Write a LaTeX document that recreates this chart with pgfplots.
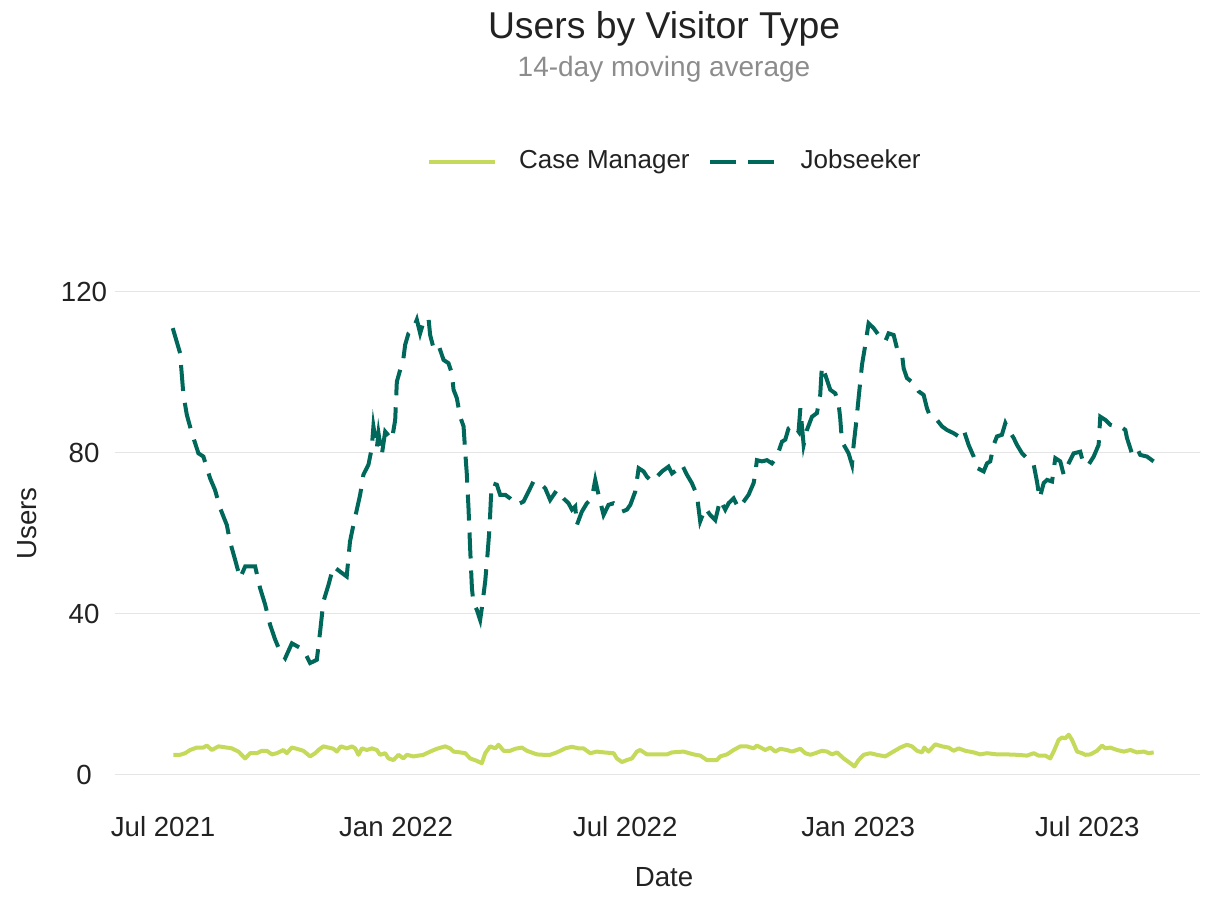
\documentclass[border=0pt]{standalone}
\usepackage{pgfplots}
\pgfplotsset{compat=1.18}
\usepackage{fontspec}
\setmainfont{Liberation Sans}

\definecolor{casemgr}{RGB}{197,218,90}
\definecolor{jobseek}{RGB}{0,104,90}
\definecolor{gridgray}{RGB}{229,229,229}
\definecolor{txtdark}{RGB}{34,34,34}
\definecolor{subgray}{RGB}{140,140,140}

% x = days since 1 Jul 2021
\pgfplotstableread{
day users
7.6 110.9
13.4 104.7
16 94.4
18.7 89.4
22.7 84.8
27.9 79.8
31.8 79.0
37.1 73.6
41 70.7
45 66.2
50.3 62.0
52.9 57.8
56.9 53.3
60.8 48.8
64.8 51.7
72.7 51.7
76.6 46.3
80.6 42.2
84.5 37.2
88.5 33.5
92.4 30.6
96.4 28.9
101.7 32.6
110.8 31.0
116.1 27.7
121.4 28.5
124 35.5
126.6 43.0
130.6 47.1
134.5 51.7
139.8 50.4
145 49.2
147.6 57.9
150.3 62
155.6 69.5
158.2 74.5
162.2 77
164.8 81.1
166.1 86.5
168.8 81.1
170.1 84.8
172.7 79.4
175.4 85.2
180.7 83.2
183.3 88.1
184.6 97.6
187.2 100.5
189.8 103.4
191.2 106.8
193.8 109.6
197.8 110.9
200.4 113
203 109.6
205.7 112.5
209.6 113.4
210.9 109.2
213.6 105.9
217.5 106.7
221.5 103
225.4 102.2
228 99.7
229.4 95.6
232 93.5
234.6 88.9
237.3 86.5
238.6 80.2
239.9 74.5
241.2 66.2
242.5 56.2
243.9 46.3
245.1 42.6
247.8 40.9
250.4 38.4
251.7 41.3
254.4 48
256.2 54.6
257.8 61.2
258.9 68.6
259.7 72.4
263.6 72
266.2 69.5
270.2 69.5
274.1 68.6
279.4 67
284.6 67.8
288.6 70.3
292.5 72.8
297.8 72.4
301.8 71.1
305.7 68.2
311 70.7
316.2 68.6
320.2 67.4
322.9 65.8
325.5 66.6
326.8 62
330.7 65.3
334.7 67.4
338.6 68.6
341.3 73.2
343.9 69.5
347.9 64.5
351.8 67
355.8 67.4
362.4 65.3
366.3 65.8
369 67
372.9 70.3
375.6 76.1
379.5 75.3
382.1 74
386.1 72.8
390 74
394 75.3
399.2 76.5
401.9 74.8
405.8 75.7
409.8 77
413.7 74.5
417.6 72.4
421.6 69.5
424.2 62.9
428.2 66.2
432.1 64.5
436.1 63.2
440 68.2
444 65.8
446.6 67.4
450.6 68.6
454.5 66.2
458.5 67.8
462.4 69.5
466.4 72.4
467.7 74.8
469 78.1
473 77.8
476.9 78.1
480.9 77.3
484.8 79
488.8 82.7
491.4 83.2
494 86
498 86.9
501.9 85.2
503.3 91
505.9 81.9
508.5 85.6
512.5 88.9
516.4 89.8
519 94.3
520.3 101.4
523 99.3
526.9 95.6
530.9 94.7
533.5 92.2
534.8 88.5
536.2 82.7
541.4 79.8
544.1 77
545.4 81.9
547.5 87.7
549.3 93.5
552 101.8
554.6 106.7
557.2 112.1
561.2 110.9
565.1 109.2
570.4 107.6
573 109.6
577 109.2
579.6 105.9
583.5 104.7
584.9 100.9
587.5 98.5
592.8 97.2
596.7 95.2
600.7 94.3
603.3 91
605.9 88.9
611.2 88.1
615.2 86.5
619.1 85.6
624.4 84.8
628.3 84
632.3 85.6
636.2 81.9
640.2 79
643.3 76.1
648.1 75.3
650.7 77.3
653.3 77.8
656 81.9
658.6 84
662.5 84.4
665.2 87.3
667.8 85.6
671.8 83.6
674.4 81.9
678.4 79.8
683.6 78.2
687.6 77
690.2 72.8
692.3 68.6
695.5 72.4
698.1 73.2
702.1 72.8
704.7 78.6
708.6 77.8
711.3 74.5
715.2 77.3
719.2 79.8
724.4 80.2
727.1 77
731 77
735 79
738.9 81.9
740.2 88.9
744.2 88.1
748.1 86.9
752.1 86.5
756 86.5
760 85.6
761.3 83.6
765.2 79.8
769.2 81.1
771.8 79.4
777.1 79
782.3 77.8
}\jobseeker

\pgfplotstableread{
day users
8.1 4.9
13.4 4.9
17.4 5.3
21.3 6.1
26.6 6.7
31.8 6.7
34.5 7.2
38.5 6.1
43.7 7.0
50.3 6.7
54.3 6.5
59.5 5.7
64.8 4.0
68.7 5.3
74 5.3
78 5.9
81.9 5.9
85.9 5.0
89.8 5.3
95 6.1
97.7 5.3
101.6 6.7
105.6 6.4
110.8 5.9
116.1 4.5
120.1 5.3
122.7 6.1
126.6 7.0
130.6 6.7
134.5 6.4
137.2 5.7
140.4 7.0
145.1 6.5
149.1 7.0
151.7 6.5
154.3 4.9
157 6.5
160.9 6.1
164.9 6.5
168.8 6.1
171.4 4.9
175.4 5.3
178 4.0
181.9 3.6
185.9 4.9
189.8 4.0
192.5 4.9
197.7 4.5
205.6 4.9
210.9 5.7
216.2 6.4
222.8 7.0
226.7 6.5
229.4 5.7
234.6 5.5
238.6 5.3
242.5 4.0
247.8 3.4
251.7 2.8
254.4 5.3
258.3 7.0
262.3 6.5
264.9 7.4
268.9 5.9
274.1 5.9
278.1 6.4
283.4 6.7
287.3 5.9
295.2 5.0
300.4 4.9
305.7 4.9
311 5.5
317.6 6.5
322.9 6.9
328.1 6.5
332.1 6.5
337.3 5.3
342.6 5.7
347.9 5.5
355.8 5.3
358.4 4.0
362.4 3.1
366.3 3.6
370.3 4.0
374.2 5.7
376.8 6.1
382.1 5.0
390 5.0
397.9 5.0
401.9 5.5
411.1 5.7
419 5.0
424.3 4.7
429.5 3.6
437.4 3.6
440 4.5
445.3 5.0
450.6 6.1
455.9 7.0
461.1 7.0
466.4 6.5
469 7.2
475.6 6.1
479.5 6.7
483.5 5.7
487.5 6.4
492.7 6.1
496.7 5.7
503.3 6.4
507.2 5.3
511.2 4.9
515.1 5.3
520.4 5.9
524.4 5.7
528.3 5.0
532.3 5.5
537.5 4.0
542.8 2.8
546 2.0
549.3 3.6
553.3 4.9
558.5 5.3
563.8 4.9
570.4 4.5
575.7 5.5
582.2 6.7
587.5 7.4
591.5 7.0
595.4 5.9
599.4 5.5
601.2 6.7
604.6 5.7
609.9 7.5
615.2 7.0
620.4 6.7
624.4 5.9
628.3 6.5
633.6 5.9
640.2 5.5
645.4 5.0
650.7 5.3
658.6 5.0
666.5 5.0
674.4 4.9
682.3 4.7
687.6 5.3
691.5 4.7
696.8 4.7
700.7 4.0
703.4 5.7
707.3 8.6
710 9.2
712.6 9.0
715.3 9.9
717.9 8.6
721.9 5.7
725.8 5.3
728.4 4.9
732.4 5.0
737.6 5.9
741.6 7.2
744.2 6.5
748.1 6.7
753.4 6.1
758.7 5.7
764 6.1
769.2 5.5
774.5 5.7
778.4 5.3
782.4 5.5
}\casemanager

\begin{document}
\begin{tikzpicture}
\begin{axis}[
    scale only axis,
    width=325.5pt,
    height=144.9pt,
    xmin=-38, xmax=819,
    ymin=0, ymax=120,
    clip=false,
    axis line style={draw=none},
    tick style={draw=none},
    ymajorgrids,
    grid style={gridgray, line width=0.45pt},
    xtick={0,184,365,549,730},
    xticklabels={Jul 2021,Jan 2022,Jul 2022,Jan 2023,Jul 2023},
    ytick={0,40,80,120},
    /pgf/number format/assume math mode=true,
    ticklabel style={font=\fontsize{8.3}{10}\selectfont, text=txtdark},
    xticklabel style={anchor=center, yshift=-15.6pt},
    yticklabel style={anchor=center, xshift=-9.3pt},
    legend columns=2,
    legend style={at={(rel axis cs:0.518,1.269)}, anchor=center, draw=none,
        font=\fontsize{7.8}{9}\selectfont, text=txtdark,
        /tikz/every even column/.append style={column sep=3.6pt}},
    legend image code/.code={\draw[#1] (0pt,0pt) -- (20pt,0pt);},
]
\addplot[casemgr, line width=1.2pt, line join=round] table[x=day, y=users] {\casemanager};
\addlegendentry{\hspace{4.5pt}Case Manager}
\addplot[jobseek, line width=1.2pt, dash pattern=on 7.8pt off 3.6pt] table[x=day, y=users] {\jobseeker};
\addlegendentry{\hspace{4.5pt}Jobseeker}

\node[font=\fontsize{11.2}{13}\selectfont, text=txtdark] at (rel axis cs:0.506,1.5445) {Users by Visitor Type};
\node[font=\fontsize{8.4}{10}\selectfont, text=subgray] at (rel axis cs:0.506,1.4596) {14-day moving average};
\node[font=\fontsize{8.3}{10}\selectfont, text=txtdark] at (rel axis cs:0.506,-0.2133) {Date};
\node[font=\fontsize{8.3}{10}\selectfont, text=txtdark, rotate=90] at (rel axis cs:-0.0811,0.52) {Users};

\coordinate (bbsw) at (rel axis cs:-0.106,-0.2464);
\coordinate (bbne) at (rel axis cs:1.0101,1.6004);
\end{axis}
\path (bbsw) rectangle (bbne);
\end{tikzpicture}
\end{document}
